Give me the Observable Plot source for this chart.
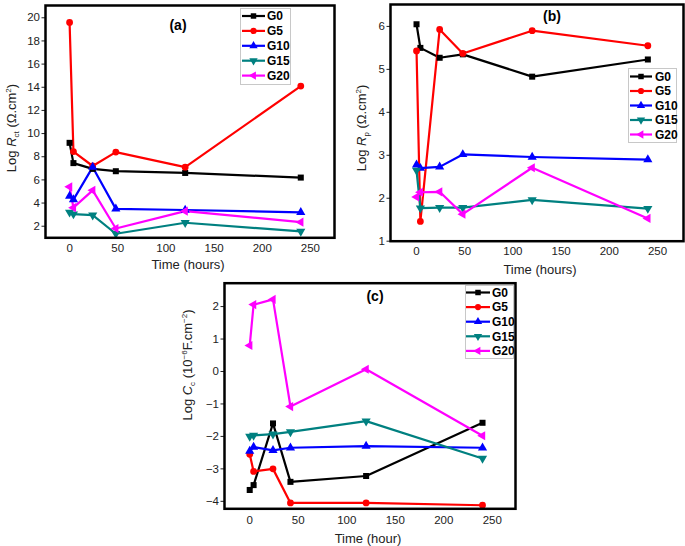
<!DOCTYPE html>
<html><head><meta charset="utf-8">
<script src="https://cdn.jsdelivr.net/npm/d3@7"></script>
<script src="https://cdn.jsdelivr.net/npm/@observablehq/plot@0.6"></script>
<style>
body{margin:0;background:#fff;}
#root{position:relative;width:685px;height:546px;font-family:"Liberation Sans",Arial,Helvetica,sans-serif;overflow:hidden;background:#fff;}
.p{position:absolute;}
.t{position:absolute;white-space:nowrap;transform:translate(-50%,-50%);font-size:13px;color:#222;line-height:1;}
.ry{transform:translate(-50%,-50%) rotate(-90deg);}
.b{font-weight:bold;font-size:14px;color:#000;}
sub,sup{font-size:8px;}
sub{vertical-align:-3px;} sup{vertical-align:5px;}
</style></head><body><div id="root"></div>
<script>
// ---- categories / styles ----
const series = ["G0", "G5", "G10", "G15", "G20"];
const colors = ["#000000", "#ff0000", "#0000ff", "#008080", "#ff00ff"];
const xTicks = [0, 50, 100, 150, 200, 250];

// ---- time values (hours) ----
const timesA = [0, 4, 24, 48, 120, 240];
const timesB = [0, 4, 24, 48, 120, 240];
const timesC = [0, 4, 24, 42, 120, 240];

// ---- (a) Log Rct ----
const rctG0 = [9.2, 7.45, 6.95, 6.75, 6.6, 6.2];
const rctG5 = [19.6, 8.45, 7.2, 8.4, 7.1, 14.1];
const rctG10 = [4.6, 4.3, 7.1, 3.5, 3.4, 3.2];
const rctG15 = [3.2, 3.05, 2.95, 1.35, 2.3, 1.55];
const rctG20 = [5.4, 3.6, 5.1, 1.8, 3.3, 2.35];
const yTicksA = [2, 4, 6, 8, 10, 12, 14, 16, 18, 20];

// ---- (b) Log Rp ----
const rpG0 = [6.05, 5.5, 5.27, 5.35, 4.83, 5.23];
const rpG5 = [5.43, 1.46, 5.93, 5.37, 5.9, 5.55];
const rpG10 = [2.78, 2.7, 2.73, 3.02, 2.96, 2.9];
const rpG15 = [2.65, 1.77, 1.78, 1.78, 1.96, 1.76];
const rpG20 = [2.03, 2.14, 2.15, 1.63, 2.71, 1.53];
const yTicksB = [1, 2, 3, 4, 5, 6];

// ---- (c) Log Cc ----
const ccG0 = [-3.65, -3.5, -1.6, -3.4, -3.22, -1.58];
const ccG5 = [-2.55, -3.08, -3.0, -4.05, -4.05, -4.12];
const ccG10 = [-2.45, -2.33, -2.43, -2.35, -2.3, -2.35];
const ccG15 = [-2.0, -1.97, -1.93, -1.86, -1.53, -2.68];
const ccG20 = [0.8, 2.06, 2.22, -1.08, 0.07, -1.98];
const yTicksC = [-4, -3, -2, -1, 0, 1, 2];

// ---- custom marker symbols ----
function triGeom(size) { const s = Math.sqrt(4 * size / Math.sqrt(3)); const h = s * Math.sqrt(3) / 2; return {s, h}; }
const triDown = {draw(ctx, size) { const {s, h} = triGeom(size); ctx.moveTo(0, 2*h/3); ctx.lineTo(s/2, -h/3); ctx.lineTo(-s/2, -h/3); ctx.closePath(); }};
const triLeft = {draw(ctx, size) { const {s, h} = triGeom(size); ctx.moveTo(-2*h/3, 0); ctx.lineTo(h/3, -s/2); ctx.lineTo(h/3, s/2); ctx.closePath(); }};
const triUp = {draw(ctx, size) { const {s, h} = triGeom(size); ctx.moveTo(0, -2*h/3); ctx.lineTo(s/2, h/3); ctx.lineTo(-s/2, h/3); ctx.closePath(); }};
const symbolTypes = [d3.symbolSquare, d3.symbolCircle, triUp, triDown, triLeft];

function table(times, arrays) {
  const rows = [];
  series.forEach((s, i) => arrays[i].forEach((v, j) => rows.push({t: times[j], v, s})));
  return rows;
}

const root = document.getElementById("root");

function panel(o) {
  const data = table(o.times, o.values);
  const chart = Plot.plot({
    width: o.width, height: o.height,
    marginLeft: o.ml, marginRight: o.mr, marginTop: o.mt, marginBottom: o.mb,
    style: {fontFamily: '"Liberation Sans", Arial, sans-serif', fontSize: "11.5px", color: "#222", background: "transparent", overflow: "visible"},
    x: {domain: o.xDomain},
    y: {domain: o.yDomain},
    color: {domain: series, range: colors},
    symbol: {domain: series, range: symbolTypes},
    marks: [
      Plot.axisX({ticks: xTicks, tickSize: 0, tickPadding: o.xPad, label: null, fontSize: 11.5}),
      Plot.axisY({ticks: o.yTicks, tickSize: 3.5, tickPadding: 2, label: null, fontSize: 11.5, tickFormat: d => d < 0 ? "\u2212" + Math.abs(d) : String(d)}),
      Plot.line(data, {x: "t", y: "v", z: "s", stroke: "s", strokeWidth: 2.2}),
      Plot.dot(data, {x: "t", y: "v", symbol: "s", fill: "s", stroke: "none", r: 3.4}),
      Plot.frame({stroke: "#000", strokeWidth: 2.5})
    ]
  });
  chart.classList.add("p");
  chart.style.left = o.left + "px";
  chart.style.top = o.top + "px";
  root.appendChild(chart);
}

function legend(o) {
  const svg = d3.select(root).append("svg").attr("class", "p")
    .style("left", o.x + "px").style("top", o.y + "px").style("overflow", "visible")
    .attr("width", o.w).attr("height", o.h);
  svg.append("rect").attr("x", 0.5).attr("y", 0.5).attr("width", o.w - 1).attr("height", o.h - 1)
    .attr("fill", "#fff").attr("stroke", "#c8c8c8");
  series.forEach((s, i) => {
    const y = o.first + i * o.step;
    const g = svg.append("g");
    g.append("line").attr("x1", o.l0).attr("x2", o.l1).attr("y1", y).attr("y2", y)
      .attr("stroke", colors[i]).attr("stroke-width", 2.2);
    g.append("path").attr("d", d3.symbol(symbolTypes[i], 30)())
      .attr("transform", `translate(${(o.l0 + o.l1) / 2},${y})`).attr("fill", colors[i]);
    g.append("text").attr("x", o.tx).attr("y", y).attr("dy", "0.36em")
      .attr("font-family", '"Liberation Sans", Arial, sans-serif').attr("font-weight", "bold")
      .attr("font-size", 12).attr("fill", "#000").text(s);
  });
}

function label(html, x, y, cls) {
  const d = document.createElement("div");
  d.className = "t " + (cls || "");
  d.style.left = x + "px"; d.style.top = y + "px";
  d.innerHTML = html;
  root.appendChild(d);
}

// (a)
panel({times: timesA, values: [rctG0, rctG5, rctG10, rctG15, rctG20], yTicks: yTicksA,
  left: 0, top: 0, width: 340, height: 276, ml: 45, mr: 6, mt: 5, mb: 38.7, xPad: 6,
  xDomain: [-25, 275], yDomain: [1.0, 21.06]});
// (b)
panel({times: timesB, values: [rpG0, rpG5, rpG10, rpG15, rpG20], yTicks: yTicksB,
  left: 340, top: 0, width: 345, height: 280, ml: 50, mr: 2, mt: 4, mb: 39.3, xPad: 6,
  xDomain: [-27, 277], yDomain: [1, 6.51]});
// (c)
panel({times: timesC, values: [ccG0, ccG5, ccG10, ccG15, ccG20], yTicks: yTicksC,
  left: 180, top: 270, width: 345, height: 276, ml: 44, mr: 10, mt: 12.7, mb: 37.7, xPad: 7,
  xDomain: [-26, 274], yDomain: [-4.23, 2.72]});

legend({x: 240, y: 8, w: 51, h: 77, first: 8, step: 14.9, l0: 2, l1: 25, tx: 27});
legend({x: 628, y: 68, w: 49, h: 75, first: 8.5, step: 14.5, l0: 2, l1: 24, tx: 27});
legend({x: 465, y: 285, w: 49, h: 74, first: 7.5, step: 14.6, l0: 1, l1: 25, tx: 27});

label("(a)", 178, 25, "b");
label("(b)", 552, 16, "b");
label("(c)", 375, 296, "b");

label("Time (hours)", 188, 264);
label("Time (hours)", 540, 269);
label("Time (hour)", 368, 538);

label("Log <i>R</i><sub>ct</sub> (&Omega;.cm<sup>2</sup>)", 13, 128, "ry");
label("Log <i>R</i><sub>p</sub> (&Omega;.cm<sup>2</sup>)", 363, 128, "ry");
label("Log <i>C</i><sub>c</sub> (10<sup>&minus;6</sup>F.cm<sup>&minus;2</sup>)", 189, 365, "ry");
</script></body></html>
